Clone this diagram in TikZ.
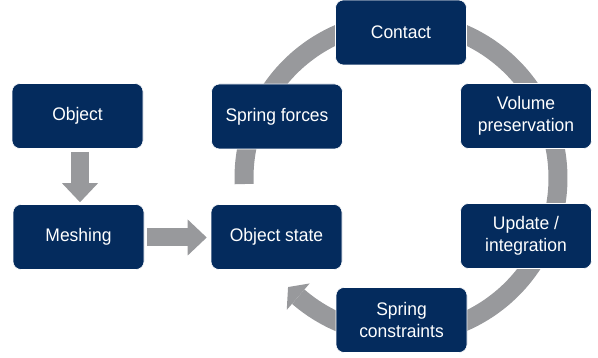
\documentclass[tikz,border=0pt]{standalone}
\usepackage{fontspec}
\setmainfont{Liberation Sans}[FakeStretch=0.96]
\usetikzlibrary{arrows.meta}
\definecolor{navy}{RGB}{4,43,93}
\definecolor{ringgray}{RGB}{152,153,156}
\tikzset{
  box/.style={draw=white, line width=0.6pt, fill=navy, rounded corners=8pt,
    minimum width=131pt, minimum height=65pt, inner sep=2pt,
    text=white, align=center, font=\fontsize{18.2}{22.5}\selectfont},
  blockarrow/.style={draw=ringgray, line width=18pt,
    -{Triangle[length=19pt,width=36pt,line width=0pt]}},
  ring/.style={draw=ringgray, line width=19pt}
}
\begin{document}
\begin{tikzpicture}[x=1pt,y=1pt]
\useasboundingbox (0,0) rectangle (598,-358);
% ring
\coordinate (c) at (401,-178);
\draw[ring] ([shift={(182.2:157)}]c) arc[start angle=182.2, end angle=-130.9, radius=157];
\fill[ringgray] ([shift={(229.1:174.5)}]c) -- ([shift={(224:157)}]c) -- ([shift={(229.1:139.5)}]c) -- cycle;
% boxes
\node[box] (obj)   at (77.5,-116) {Object};
\node[box] (mesh)  at (78.5,-237) {Meshing};
\node[box] (state) at (276.5,-237) {Object state};
\node[box] (force) at (277,-116.5) {Spring forces};
\node[box] (cont)  at (401,-32.5) {Contact};
\node[box] (vol)   at (526,-116) {Volume\\preservation};
\node[box] (upd)   at (526,-236) {Update /\\integration};
\node[box] (cons)  at (401.5,-320) {Spring\\constraints};
% block arrows
\draw[blockarrow] ([xshift=2.5pt,yshift=-3pt]obj.south) -- ([xshift=1.5pt,yshift=2pt]mesh.north);
\draw[blockarrow] ([xshift=3pt,yshift=-0.5pt]mesh.east) -- ([xshift=-4pt,yshift=-0.5pt]state.west);
\end{tikzpicture}
\end{document}
